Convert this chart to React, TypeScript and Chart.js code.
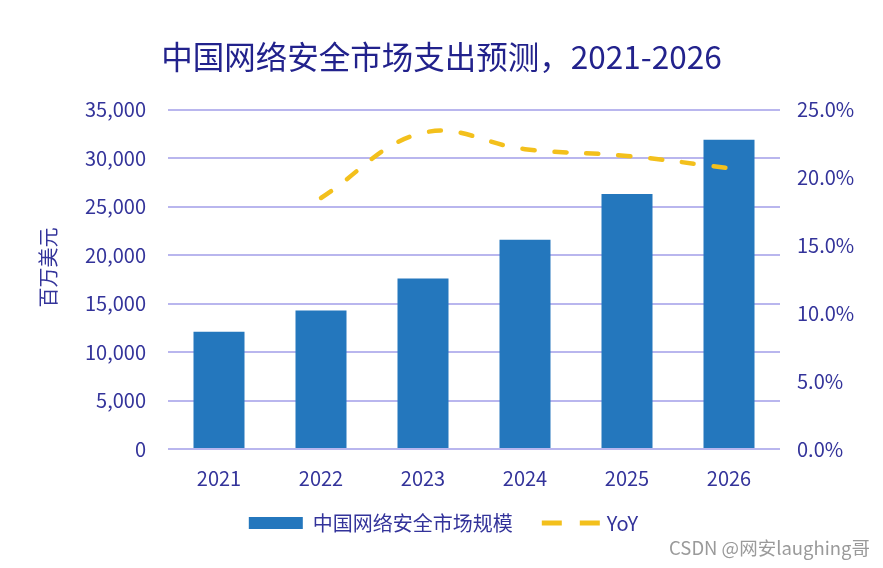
import React, { useEffect, useRef } from "react";
import { Chart, registerables } from "chart.js";

Chart.register(...registerables);

const categories = ["2021", "2022", "2023", "2024", "2025", "2026"];
const marketSize = [12100, 14300, 17600, 21600, 26300, 31900];
const yoy = [null, 18.5, 23.3, 22.1, 21.6, 20.7];
const chartTitle = "中国网络安全市场支出预测，2021-2026";
const barLabel = "中国网络安全市场规模";
const lineLabel = "YoY";
const leftAxisTitle = "百万美元";
const watermark = "CSDN @网安laughing哥";

const FONT = '"Noto Sans CJK SC", "Noto Sans", sans-serif';
const TEXT = "#33339a";
const TITLE = "#22228c";
const GRID = "#b9b6ee";
const BAR = "#2477bd";
const LINE = "#f3c01c";

// Custom bottom legend drawn from the chart's own datasets
const bottomLegend = {
  id: "bottomLegend",
  afterDraw(chart: any) {
    const ctx = chart.ctx as CanvasRenderingContext2D;
    const ds = chart.data.datasets;
    ctx.save();
    ctx.font = `20px ${FONT}`;
    ctx.textBaseline = "middle";
    const swatchW = [54, 58];
    const textGap = [10, 7];
    const itemGap = 29;
    const widths = ds.map((d: any, i: number) => swatchW[i] + textGap[i] + ctx.measureText(d.label).width);
    const total = widths.reduce((a: number, b: number) => a + b, 0) + itemGap * (ds.length - 1);
    let x = chart.width / 2 + 2 - total / 2;
    const y = 523;
    ds.forEach((d: any, i: number) => {
      if (d.type === "line") {
        ctx.strokeStyle = d.borderColor;
        ctx.lineWidth = 5;
        ctx.setLineDash([20, 18]);
        ctx.beginPath();
        ctx.moveTo(x, y);
        ctx.lineTo(x + swatchW[i], y);
        ctx.stroke();
        ctx.setLineDash([]);
      } else {
        ctx.fillStyle = d.backgroundColor;
        ctx.fillRect(x, y - 6, swatchW[i], 12);
      }
      ctx.fillStyle = TEXT;
      ctx.textAlign = "left";
      ctx.fillText(d.label, x + swatchW[i] + textGap[i], y);
      x += widths[i] + itemGap;
    });
    ctx.restore();
  },
};

// Left axis title, rotated, placed slightly above the plot's vertical centre
const leftTitle = {
  id: "leftTitle",
  afterDraw(chart: any) {
    const ctx = chart.ctx as CanvasRenderingContext2D;
    const area = chart.chartArea;
    ctx.save();
    ctx.font = `20px ${FONT}`;
    ctx.fillStyle = TEXT;
    ctx.textAlign = "center";
    ctx.textBaseline = "middle";
    ctx.translate(48, (area.top + area.bottom) / 2 - 12);
    ctx.rotate(-Math.PI / 2);
    ctx.fillText(leftAxisTitle, 0, 0);
    ctx.restore();
  },
};

export default function App() {
  const ref = useRef<HTMLCanvasElement | null>(null);

  useEffect(() => {
    if (!ref.current) return;
    const chart = new Chart(ref.current, {
      type: "bar",
      data: {
        labels: categories,
        datasets: [
          {
            type: "bar",
            label: barLabel,
            data: marketSize,
            backgroundColor: BAR,
            borderWidth: 0,
            barPercentage: 0.5,
            categoryPercentage: 1,
            yAxisID: "y",
            order: 2,
          } as any,
          {
            type: "line",
            label: lineLabel,
            data: yoy,
            borderColor: LINE,
            backgroundColor: LINE,
            borderWidth: 4.5,
            borderDash: [12, 20],
            borderCapStyle: "round",
            tension: 0.4,
            pointRadius: 0,
            yAxisID: "y1",
            order: 1,
          } as any,
        ],
      },
      plugins: [bottomLegend, leftTitle],
      options: {
        responsive: false,
        animation: false,
        layout: { padding: { top: 0, bottom: 61, left: 0, right: 0 } },
        plugins: {
          title: {
            display: true,
            text: chartTitle,
            color: TITLE,
            font: { family: FONT, size: 31.5, weight: "normal" },
            padding: { top: 38, bottom: 34 },
          },
          legend: { display: false },
          tooltip: { enabled: false },
        },
        scales: {
          x: {
            grid: { display: false, drawTicks: false },
            border: { display: false },
            ticks: { color: TEXT, font: { family: FONT, size: 20 }, padding: 17 },
          },
          y: {
            position: "left",
            min: 0,
            max: 35000,
            ticks: {
              stepSize: 5000,
              color: TEXT,
              font: { family: FONT, size: 20 },
              padding: 22,
              callback: (v: any) => Number(v).toLocaleString("en-US"),
            },
            grid: { color: GRID, lineWidth: 2, drawTicks: false },
            border: { display: false },
            afterFit: (s: any) => {
              s.width = 168;
            },
          },
          y1: {
            position: "right",
            min: 0,
            max: 25,
            ticks: {
              stepSize: 5,
              color: TEXT,
              font: { family: FONT, size: 20 },
              padding: 17,
              callback: (v: any) => Number(v).toFixed(1) + "%",
            },
            grid: { display: false, drawTicks: false },
            border: { display: false },
            afterFit: (s: any) => {
              s.width = 103;
            },
          },
        },
      },
    });
    return () => chart.destroy();
  }, []);

  return (
    <div
      style={{
        position: "absolute",
        left: 0,
        top: 0,
        width: 883,
        height: 568,
        background: "#ffffff",
        overflow: "hidden",
      }}
    >
      <canvas ref={ref} width={883} height={568} style={{ width: 883, height: 568, display: "block" }} />
      <div
        style={{
          position: "absolute",
          right: 13,
          top: 535,
          fontFamily: FONT,
          fontSize: 18.5,
          color: "#9a9a9a",
          whiteSpace: "nowrap",
          lineHeight: "24px",
        }}
      >
        {watermark}
      </div>
    </div>
  );
}
